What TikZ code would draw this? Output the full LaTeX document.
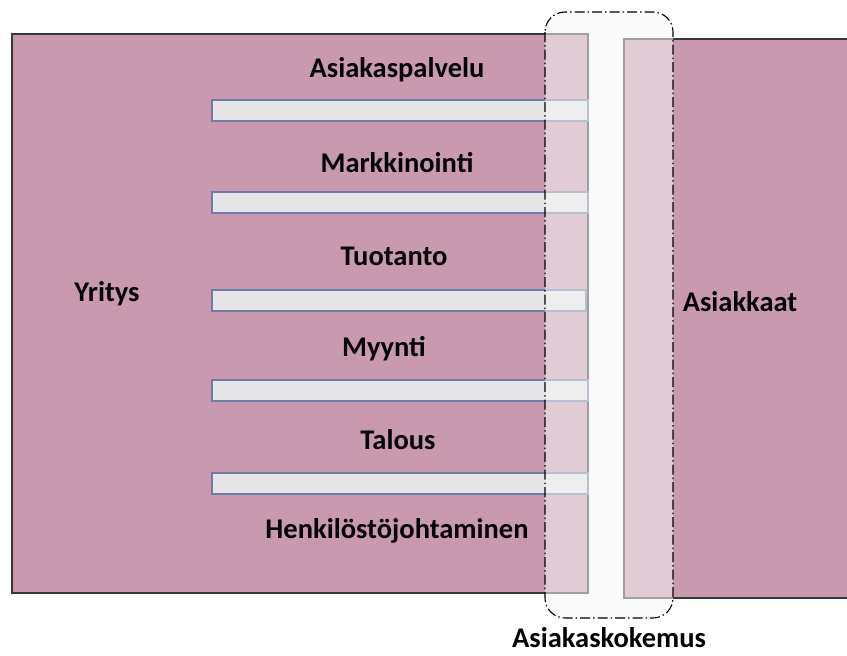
\documentclass[tikz,border=0pt]{standalone}
\usepackage{fontspec}
\setmainfont{Carlito}
\definecolor{boxpink}{RGB}{201,154,175}
\definecolor{barfill}{RGB}{230,230,232}
\definecolor{barline}{RGB}{112,124,168}
\definecolor{boxline}{RGB}{55,55,55}
\begin{document}
\begin{tikzpicture}[x=1pt,y=-1pt,
  mainbox/.style={draw=boxline,line width=1.3pt,fill=boxpink},
  barbox/.style={draw=barline,line width=1.6pt,fill=barfill},
  lbl/.style={font=\fontsize{28.5}{32}\selectfont\bfseries,text=black,inner sep=0pt}]
\useasboundingbox (0,0) rectangle (847,656);
\path[mainbox] (12,34) rectangle (588,593);
\path[mainbox] (624,39) rectangle (848,598);
% bars
\foreach \y/\r in {100/588,192/588,290/586,380/588,473/588}{
  \path[barbox] (212,\y) rectangle (\r,\y+21);
}
\node[lbl] (l1) at (397,70) {Asiakaspalvelu};
\node[lbl] (l2) at (397,163) {Markkinointi};
\node[lbl] (l3) at (394,256) {Tuotanto};
\node[lbl] (l4) at (384,349) {Myynti};
\node[lbl] (l5) at (398,440) {Talous};
\node[lbl] (l6) at (397,531) {Henkilöstöjohtaminen};
\node[lbl] (yritys) at (107,294) {Yritys};
\node[lbl] (asiakkaat) at (740,302) {Asiakkaat};
% overlay
\draw[black,line width=1.1pt,dash pattern=on 10pt off 3pt on 1.5pt off 3pt,
  fill=black!4,fill opacity=0.55,rounded corners=20pt] (545,12) rectangle (673,618);
\node[lbl] (exp) at (609,638) {Asiakaskokemus};
\end{tikzpicture}
\end{document}
